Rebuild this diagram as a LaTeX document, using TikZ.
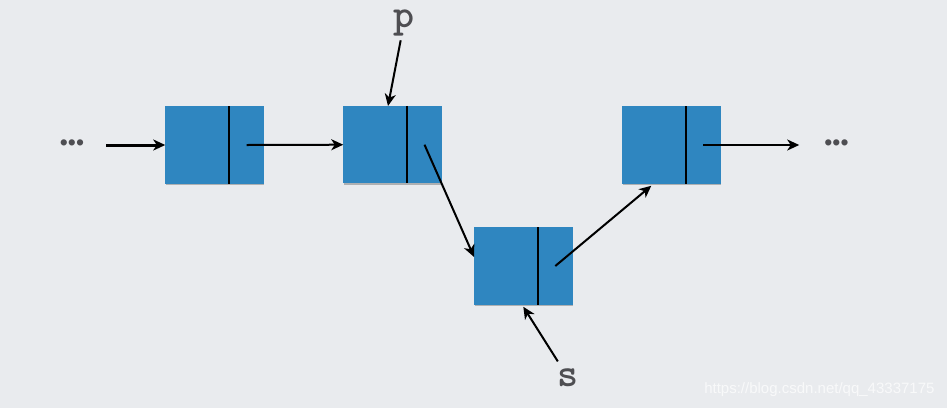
\documentclass[tikz,border=0pt]{standalone}
\usepackage{fontspec}
\setmainfont{Liberation Sans}
\usetikzlibrary{arrows.meta,shadows}

\definecolor{bgcol}{RGB}{233,235,238}
\definecolor{cellblue}{RGB}{47,134,192}
\definecolor{labgray}{RGB}{78,78,82}

\begin{document}
\begin{tikzpicture}[x=1pt, y=-1pt, >={Stealth[length=12pt, width=11pt, inset=3.5pt]},
	cell/.style={rectangle, fill=cellblue, minimum width=98.5pt, minimum height=77.5pt, inner sep=0pt, outer sep=0pt, drop shadow={shadow xshift=0.6pt, shadow yshift=-1.2pt, opacity=0.25, fill=black}},
	ptr/.style={line width=2pt, ->},
	lab/.style={font=\ttfamily\bfseries\fontsize{40}{40}\selectfont, text=labgray, inner sep=1pt},
	dots/.style={font=\fontsize{23}{23}\selectfont, text=labgray, inner sep=1pt}]
	\fill[bgcol] (0,0) rectangle (947,408);
	\node[cell] (n1) at (214.5,145) {};
	\node[cell] (n2) at (392.5,144.7) {};
	\node[cell] (n3) at (523.3,266) {};
	\node[cell] (n4) at (671.3,145) {};
	\foreach \i in {1,...,4}
		\draw[line width=2pt] ([xshift=64pt]n\i.north west) -- ([xshift=64pt]n\i.south west);
	\node[dots] (ldots) at (72,145) {•••};
	\node[dots] (rdots) at (836.5,145) {•••};
	\node[lab] (p) at (404,23) {p};
	\node[lab] (s) at (568,377.5) {s};
	\draw[line width=3pt, ->, shorten <=21pt] (ldots.east |- n1.west) -- (n1.west);
	\draw[ptr] ([xshift=32pt]n1.center) -- (n2.west);
	\draw[ptr] ([xshift=32pt]n2.center) -- ([yshift=9pt]n3.west);
	\draw[ptr] ([xshift=32pt]n3.center) -- ([xshift=-20pt, yshift=-2pt]n4.south);
	\draw[ptr, shorten >=24pt] ([xshift=32pt]n4.center) -- (rdots.west |- n4.east);
	\draw[ptr, shorten <=3pt] (p) -- ([xshift=-4.5pt]n2.north);
	\draw[ptr, shorten <=7pt] (s) -- ([yshift=-2pt]n3.south);
	\node[anchor=east, text=white, opacity=0.7, font=\fontsize{15}{15}\selectfont] (mark) at (938,390) {https://blog.csdn.net/qq\_43337175};
\end{tikzpicture}
\end{document}
